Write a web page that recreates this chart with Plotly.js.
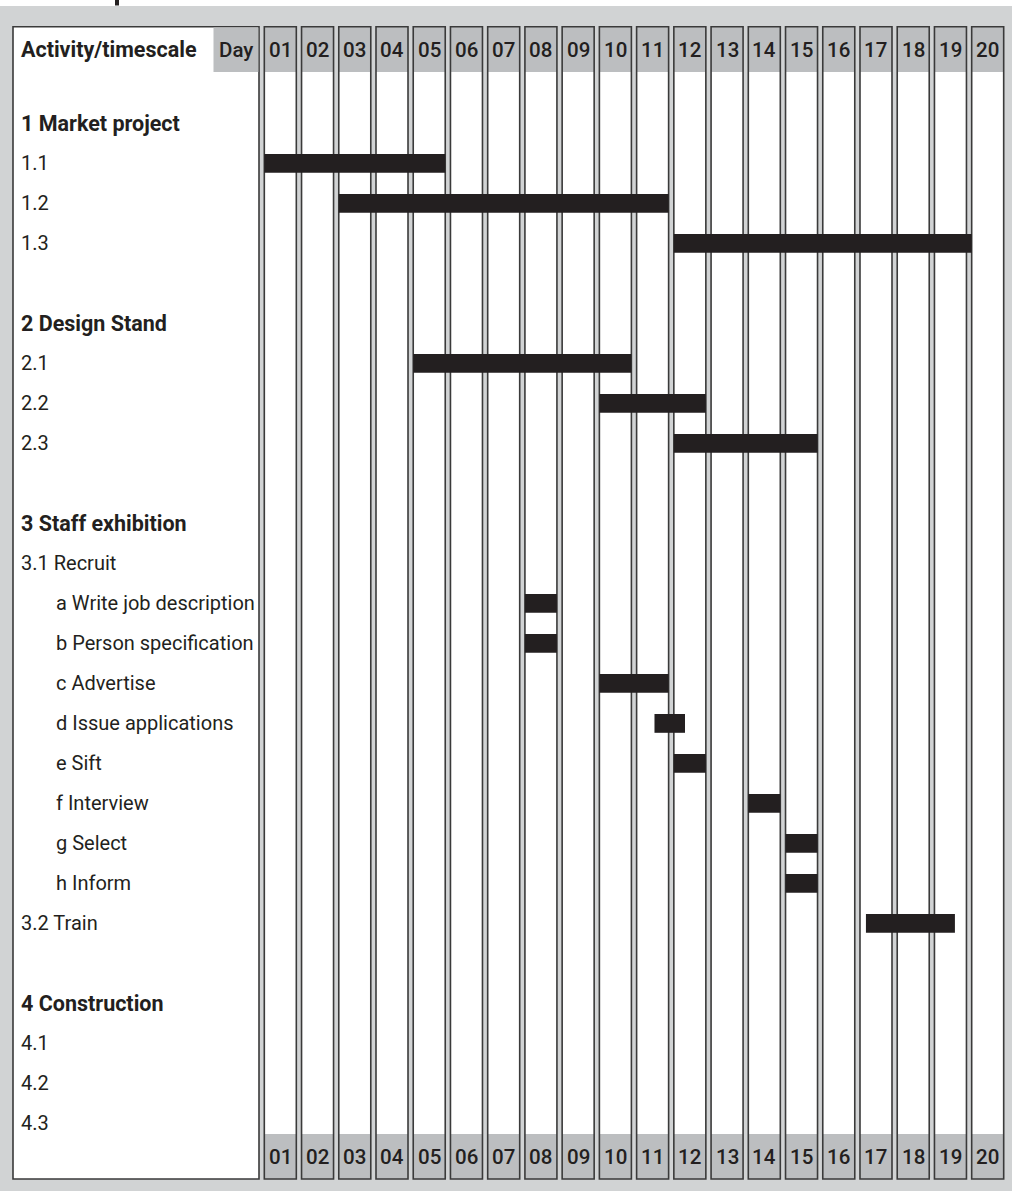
<!DOCTYPE html>
<html>
<head>
<meta charset="utf-8">
<script src="https://cdn.plot.ly/plotly-3.0.1.min.js"></script>
<style>
  html, body { margin: 0; padding: 0; background: #ffffff; }
  #chart { width: 1012px; height: 1191px; }
</style>
</head>
<body>
<div id="chart"></div>
<script>
// Day columns of the timescale
const dayLabels = ["01","02","03","04","05","06","07","08","09","10",
                   "11","12","13","14","15","16","17","18","19","20"];

// Activity rows, top to bottom ("" = spacer row)
const rowLabels = [
  "",
  "1 Market project", "1.1", "1.2", "1.3",
  "",
  "2 Design Stand", "2.1", "2.2", "2.3",
  "",
  "3 Staff exhibition", "3.1 Recruit",
  "a Write job description", "b Person specification", "c Advertise",
  "d Issue applications", "e Sift", "f Interview", "g Select", "h Inform",
  "3.2 Train",
  "",
  "4 Construction", "4.1", "4.2", "4.3"
];

// Scheduled activities: start / end in days (day n runs from n-1 to n)
const taskNames = [
  "1.1", "1.2", "1.3",
  "2.1", "2.2", "2.3",
  "a Write job description", "b Person specification", "c Advertise",
  "d Issue applications", "e Sift", "f Interview", "g Select", "h Inform",
  "3.2 Train"
];
const taskStart = [0, 2, 11,   4, 9, 11,   7, 7, 9, 10.48, 11, 13, 14, 14, 16.16];
const taskEnd   = [5, 11, 19.14, 10, 12, 15, 8, 8, 11, 11.44, 12, 14, 15, 15, 18.69];

// ---- page geometry ----
const W = 1012, H = 1191;
const X0 = 261.7, PITCH = 37.23;   // pixel of day boundary 0, pixels per day
const Y0 = 83.4, ROWH = 40;        // pixel of row 0 centre, pixels per row
const px = p => (p - X0) / PITCH;
const py = p => (p - Y0) / ROWH;

const INK = "#231f20";
const LINE = "#3a3a3a";
const GAP_GREY = "#d1d3d4";
const CELL_GREY = "#bcbec0";
const COL_INSET = 0.07;
const FONT = "Roboto, 'Liberation Sans', Arial, sans-serif";

const TOP = 26.7, BOTTOM = 1179, HEAD_END = 72, FOOT_START = 1134;

const shapes = [];
const rect = (x0, x1, y0, y1, fill, line) => shapes.push({
  type: "rect", xref: "x", yref: "y", layer: "below",
  x0: x0, x1: x1, y0: y0, y1: y1,
  fillcolor: fill,
  line: line ? { color: line, width: 1.6 } : { width: 0 }
});

// white strip along the top edge
shapes.push({ type: "rect", xref: "paper", yref: "paper", layer: "below",
  x0: 0, x1: 1, y0: 1 - 6 / H, y1: 1, fillcolor: "#ffffff", line: { width: 0 } });
rect(px(115), px(119), py(0), py(5.5), INK, null);

// activity panel and "Day" header cell
rect(px(13), px(259), py(TOP), py(BOTTOM), "#ffffff", LINE);
rect(px(213.5), px(258.3), py(TOP + 0.8), py(HEAD_END), CELL_GREY, null);

// day columns
dayLabels.forEach((d, i) => {
  const a = i + COL_INSET, b = i + 1 - COL_INSET;
  rect(a, b, py(TOP), py(BOTTOM), "#ffffff", null);
  rect(a, b, py(TOP), py(HEAD_END), CELL_GREY, null);
  rect(a, b, py(FOOT_START), py(BOTTOM), CELL_GREY, null);
  rect(a, b, py(TOP), py(BOTTOM), "rgba(0,0,0,0)", LINE);
});

// ---- text ----
const annotations = [];
const txt = (text, x, y, anchor, weight, size) => annotations.push({
  text: text, x: x, y: y, xref: "x", yref: "y",
  xanchor: anchor, yanchor: "middle", showarrow: false,
  font: { family: FONT, size: size, color: INK, weight: weight }
});

txt("Activity/timescale", px(18.5), py(49.5), "left", 700, 21.5);
txt("Day", px(236), py(49.5), "center", 500, 20.5);
dayLabels.forEach((d, i) => {
  txt(d, i + 0.5, py(49.5), "center", 500, 20.5);
  txt(d, i + 0.5, py(1156.5), "center", 500, 20.5);
});
rowLabels.forEach((lab, i) => {
  if (!lab) return;
  const heading = /^\d+ [A-Z]/.test(lab);
  const sub = /^[a-z] /.test(lab);
  txt(lab, px(sub ? 54 : 18.5), i, "left", heading ? 700 : 400, heading ? 21.5 : 20);
});

// ---- bars ----
const rows = taskNames.map(n => rowLabels.indexOf(n));
const bars = {
  type: "bar", orientation: "h",
  y: rows,
  base: taskStart.map(s => s + COL_INSET),
  x: taskStart.map((s, i) => taskEnd[i] - s - 2 * COL_INSET),
  width: 0.47,
  marker: { color: INK, line: { width: 0 } },
  hoverinfo: "skip"
};

const axis = { showgrid: false, zeroline: false, showticklabels: false,
               showline: false, ticks: "", fixedrange: true };

Plotly.newPlot("chart", [bars], {
  width: W, height: H,
  margin: { l: 0, r: 0, t: 0, b: 0, pad: 0 },
  paper_bgcolor: GAP_GREY, plot_bgcolor: GAP_GREY,
  showlegend: false,
  xaxis: Object.assign({ range: [px(0), px(W)] }, axis),
  yaxis: Object.assign({ range: [py(H), py(0)] }, axis),
  shapes: shapes,
  annotations: annotations
}, { displayModeBar: false, staticPlot: true });
</script>
</body>
</html>
